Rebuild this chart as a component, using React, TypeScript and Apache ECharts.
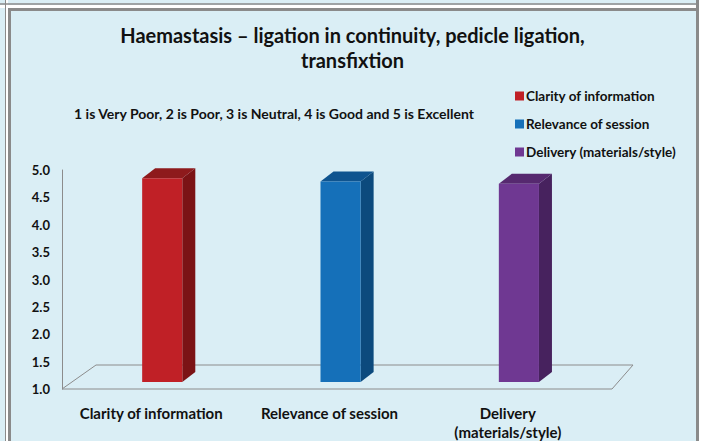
import React, { useEffect, useRef } from "react";
import * as echarts from "echarts";

const titleText = "Haemastasis – ligation in continuity, pedicle ligation,\ntransfixtion";
const scaleNote = "1 is Very Poor, 2 is Poor, 3 is Neutral, 4 is Good and 5 is Excellent";
const categories = ["Clarity of information", "Relevance of session", "Delivery (materials/style)"];
const axisLabels = ["Clarity of information", "Relevance of session", "Delivery\n(materials/style)"];
const scores = [4.72, 4.66, 4.62];
const yMin = 1;
const yMax = 5;
const yStep = 0.5;

const frontColors = ["#C02026", "#1570B9", "#6F3892"];
const sideColors = ["#7B1315", "#0C4A7D", "#47225E"];
const topColors = ["#8E1A1C", "#0F548F", "#56296F"];

const FONT = "Lato";
const BG = "#DAEEF5";
const BORDER = "#8A8A8A";

export default function App() {
  const ref = useRef<HTMLDivElement>(null);
  useEffect(() => {
    if (!ref.current) return;
    const chart = echarts.init(ref.current, undefined, { renderer: "svg" });

    const barSeries = categories.map((name, i) => ({
      type: "custom",
      name,
      z: 5,
      itemStyle: { color: frontColors[i] },
      data: [[i, scores[i]]],
      renderItem: (params: any, api: any) => {
        const idx = api.value(0);
        const v = api.value(1);
        const top = api.coord([idx, v]);
        const base = api.coord([idx, yMin]);
        const bw = api.size([1, 0])[0] * 0.225;
        const dx = 13;
        const dy = 10;
        const fx = top[0] - 9;
        const ft = top[1] - 7;
        const fb = base[1] - 7;
        return {
          type: "group",
          children: [
            {
              type: "polygon",
              shape: { points: [[fx + bw, ft], [fx + bw + dx, ft - dy], [fx + bw + dx, fb - dy], [fx + bw, fb]] },
              style: { fill: sideColors[i] },
            },
            {
              type: "polygon",
              shape: { points: [[fx, ft], [fx + dx, ft - dy], [fx + bw + dx, ft - dy], [fx + bw, ft]] },
              style: { fill: topColors[i] },
            },
            {
              type: "rect",
              shape: { x: fx, y: ft, width: bw, height: fb - ft },
              style: { fill: frontColors[i] },
            },
          ],
        };
      },
    }));

    const floorSeries = {
      type: "custom",
      name: "floor",
      z: 1,
      silent: true,
      data: [[0, yMin]],
      renderItem: (params: any) => {
        const cs = params.coordSys;
        const x = cs.x;
        const y = cs.y + cs.height;
        const r = cs.x + cs.width;
        return {
          type: "polygon",
          shape: { points: [[x, y], [r + 15, y], [r + 36, y - 24], [x + 34, y - 24]] },
          style: { fill: "none", stroke: "#8C8C8C", lineWidth: 1 },
        };
      },
    };

    chart.setOption({
      animation: false,
      backgroundColor: BG,
      textStyle: { fontFamily: FONT },
      title: {
        text: titleText,
        left: "center",
        top: 17,
        textStyle: { fontFamily: FONT, fontWeight: "bold", fontSize: 20, color: "#111", lineHeight: 25 },
      },
      legend: {
        data: categories,
        orient: "vertical",
        left: 510,
        top: 84,
        icon: "rect",
        itemWidth: 9,
        itemHeight: 9,
        itemGap: 14,
        textStyle: { fontFamily: FONT, fontWeight: "bold", fontSize: 13.5, lineHeight: 14, color: "#111", padding: [0, 0, 0, -3] },
      },
      grid: { left: 62, right: 108, top: 170, bottom: 52, containLabel: false },
      xAxis: {
        type: "category",
        data: axisLabels,
        axisLine: { show: false },
        axisTick: { show: false },
        axisLabel: {
          interval: 0,
          hideOverlap: false,
          fontFamily: FONT,
          fontWeight: "bold",
          fontSize: 15,
          color: "#111",
          margin: 14,
          lineHeight: 19,
        },
      },
      yAxis: {
        type: "value",
        min: yMin,
        max: yMax,
        interval: yStep,
        axisLine: { show: true, lineStyle: { color: "#8C8C8C", width: 1 } },
        axisTick: { show: false },
        splitLine: { show: false },
        axisLabel: {
          fontFamily: FONT,
          fontWeight: "bold",
          fontSize: 13,
          color: "#111",
          margin: 12,
          formatter: (v: number) => v.toFixed(1),
        },
      },
      graphic: [
        { type: "rect", z: -1, shape: { x: 699, y: 0, width: 6, height: 441 }, style: { fill: "#FFFFFF" } },
        { type: "rect", z: -1, shape: { x: 0, y: 5, width: 699, height: 3 }, style: { fill: "#FFFFFF" } },
        { type: "rect", z: -1, shape: { x: 6, y: 0, width: 2, height: 441 }, style: { fill: "#FFFFFF" } },
        { type: "line", z: -1, shape: { x1: 0, y1: 4, x2: 699, y2: 4 }, style: { stroke: BORDER, lineWidth: 1.5 } },
        { type: "line", z: -1, shape: { x1: 5.5, y1: 0, x2: 5.5, y2: 441 }, style: { stroke: BORDER, lineWidth: 1 } },
        { type: "line", z: -1, shape: { x1: 8, y1: 9.5, x2: 699, y2: 9.5 }, style: { stroke: BORDER, lineWidth: 3 } },
        { type: "line", z: -1, shape: { x1: 9.5, y1: 8, x2: 9.5, y2: 441 }, style: { stroke: BORDER, lineWidth: 3 } },
        { type: "line", z: -1, shape: { x1: 697.5, y1: 0, x2: 697.5, y2: 441 }, style: { stroke: BORDER, lineWidth: 3 } },
        {
          type: "text",
          x: 274,
          y: 113,
          style: {
            text: scaleNote,
            fontFamily: FONT,
            fontWeight: "bold",
            fontSize: 14,
            fill: "#111",
            textAlign: "center",
            textVerticalAlign: "middle",
          },
        },
      ],
      series: [floorSeries, ...barSeries],
    });
    return () => chart.dispose();
  }, []);
  return <div ref={ref} style={{ position: "absolute", left: 0, top: 0, width: 705, height: 441 }} />;
}
